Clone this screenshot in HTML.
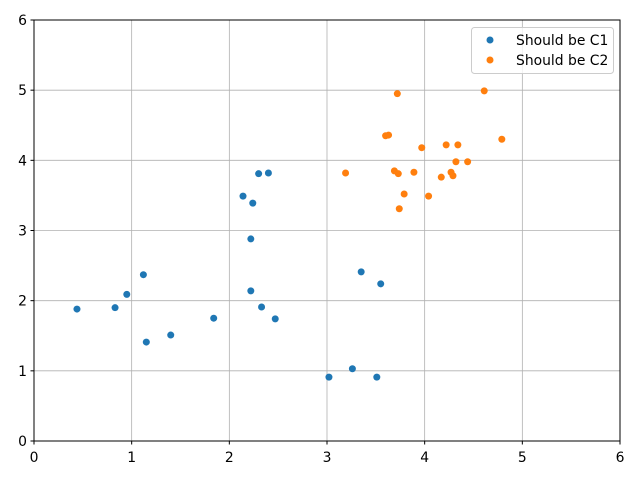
<!DOCTYPE html>
<html><head><meta charset="utf-8"><style>
body{margin:0;background:#fff;}
svg{display:block;font-family:"DejaVu Sans","Liberation Sans",sans-serif;}
</style></head><body>
<svg id="chart" width="640" height="480">
<g id="grid"></g>
<g id="ticks"></g>
<g id="pts"></g>
<rect x="34" y="20" width="586" height="421" fill="none" stroke="#000" stroke-width="1"/>
<g>
<rect x="471.5" y="27.5" width="142" height="46" rx="3" fill="#fff" fill-opacity="0.8" stroke="#ccc"/>
<circle cx="490" cy="40" r="3.5" fill="#1f77b4"/>
<text x="516" y="45" font-size="13.9">Should be C1</text>
<circle cx="490" cy="60" r="3.5" fill="#ff7f0e"/>
<text x="516" y="65" font-size="13.9">Should be C2</text>
</g>
</svg>
<script>
const xTicks=[0,1,2,3,4,5,6];
const yTicks=[0,1,2,3,4,5,6];
const c1X=[0.44,0.83,0.95,1.12,1.15,1.40,1.84,2.14,2.24,2.30,2.40,2.22,2.22,2.33,2.47,3.02,3.26,3.35,3.55,3.51];
const c1Y=[1.88,1.90,2.09,2.37,1.41,1.51,1.75,3.49,3.39,3.81,3.82,2.88,2.14,1.91,1.74,0.91,1.03,2.41,2.24,0.91];
const c2X=[3.19,3.72,3.60,3.63,3.69,3.73,3.79,3.74,3.89,3.97,4.04,4.17,4.22,4.27,4.29,4.32,4.34,4.44,4.61,4.79];
const c2Y=[3.82,4.95,4.35,4.36,3.85,3.81,3.52,3.31,3.83,4.18,3.49,3.76,4.22,3.83,3.78,3.98,4.22,3.98,4.99,4.30];
const X=v=>34+v*(586/6), Y=v=>441-v*(421/6);
const NS="http://www.w3.org/2000/svg";
function mk(t,a,p){const e=document.createElementNS(NS,t);for(const k in a)e.setAttribute(k,a[k]);p.appendChild(e);return e;}
const g=document.getElementById('grid'),tk=document.getElementById('ticks'),pts=document.getElementById('pts');
xTicks.forEach(v=>{const l=mk('line',{x1:X(v),x2:X(v),y1:20,y2:441,stroke:'#b0b0b0','stroke-width':0.8},g);


mk('line',{x1:X(v),x2:X(v),y1:441,y2:444.5,stroke:'#000'},tk);
const t=mk('text',{x:X(v),y:462,'font-size':13.9,'text-anchor':'middle'},tk);t.textContent=v;

});
yTicks.forEach(v=>{const l=mk('line',{x1:34,x2:620,y1:Y(v),y2:Y(v),stroke:'#b0b0b0','stroke-width':0.8},g);


mk('line',{x1:30.5,x2:34,y1:Y(v),y2:Y(v),stroke:'#000'},tk);
const t=mk('text',{x:27,y:Y(v)+5,'font-size':13.9,'text-anchor':'end'},tk);t.textContent=v;

});
c1X.forEach((v,i)=>{const c=mk('circle',{cx:X(v),cy:Y(c1Y[i]),r:3.5,fill:'#1f77b4'},pts);

});
c2X.forEach((v,i)=>{const c=mk('circle',{cx:X(v),cy:Y(c2Y[i]),r:3.5,fill:'#ff7f0e'},pts);

});
</script>
</body></html>
